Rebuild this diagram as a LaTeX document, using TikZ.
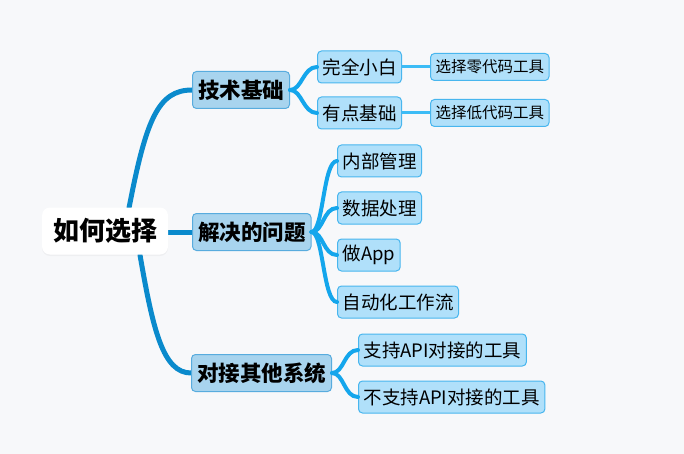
\documentclass[tikz,border=0pt]{standalone}
\usepackage{fontspec}
\setmainfont{Noto Sans CJK SC}
\usetikzlibrary{positioning, shadows}
\definecolor{bggray}{RGB}{247, 248, 250}
\definecolor{topicfill}{RGB}{168, 212, 238}
\definecolor{topicdraw}{RGB}{88, 172, 222}
\definecolor{subfill}{RGB}{176, 224, 250}
\definecolor{subdraw}{RGB}{72, 182, 238}
\definecolor{mainblue}{RGB}{10, 138, 204}
\definecolor{subblue}{RGB}{20, 166, 236}
\definecolor{leafblue}{RGB}{60, 188, 246}
\tikzset{
    % Central topic
    rootnode/.style={
        fill=white,
        rounded corners=8pt,
        minimum width=126pt,
        minimum height=47pt,
        font=\fontsize{26}{30}\selectfont\bfseries,
        drop shadow={opacity=0.07, shadow xshift=0pt, shadow yshift=-1.5pt},
    },
    % Main topics
    topicnode/.style={
        draw=topicdraw, line width=1pt,
        fill=topicfill,
        rounded corners=4pt,
        minimum height=37pt,
        inner xsep=5.5pt,
        anchor=west,
        font=\fontsize{21.5}{25}\selectfont\bfseries,
    },
    % Sub topics
    subnode/.style={
        draw=subdraw, line width=1pt,
        fill=subfill,
        rounded corners=4pt,
        minimum height=32pt,
        inner xsep=5pt,
        anchor=west,
        font=\fontsize{18.5}{22}\selectfont,
    },
    % Leaf topics
    leafnode/.style={
        draw=subdraw, line width=1pt,
        fill=subfill,
        rounded corners=4pt,
        minimum height=27pt,
        inner xsep=5pt,
        font=\fontsize{15.5}{18}\selectfont,
    },
    % Connectors
    mainlink/.style={mainblue, line width=5pt, line cap=round},
    sublink/.style={subblue, line width=4pt, line cap=round},
    leaflink/.style={leafblue, line width=3pt},
}
\begin{document}
\begin{tikzpicture}[x=1pt, y=-1pt]

% background
\fill[bggray] (0,0) rectangle (684,454);

% --- connectors to main topics ---
\coordinate (roottop) at (129,208);
\coordinate (rootbot) at (140,255);
\draw[mainlink] (roottop) .. controls (146,120) and (158,90) .. (192,90);
\draw[mainlink] (rootbot) .. controls (153,330) and (163,373) .. (191,373);
\draw[mainlink] (165,232) -- (192,232);

% --- central topic ---
\node[rootnode] (root) at (105,231) {如何选择};

% --- main topics ---
\node[topicnode] (tech) at (192,90) {技术基础};
\node[topicnode] (prob) at (192,232) {解决的问题};
\node[topicnode] (conn) at (191,373) {对接其他系统};

% --- sub topics ---
\node[subnode] (white) at (317,67) {完全小白};
\node[subnode] (some) at (317,113) {有点基础};

\node[subnode] (mgmt) at (337,161) {内部管理};
\node[subnode] (data) at (337,208) {数据处理};
\node[subnode] (app) at (337,255) {做App};
\node[subnode] (flow) at (337,302) {自动化工作流};

\node[subnode] (api) at (358,350) {支持API对接的工具};
\node[subnode] (noapi) at (358,397) {不支持API对接的工具};

% --- leaf topics ---
\node[leafnode, right=28pt of white] (zero) {选择零代码工具};
\node[leafnode, right=28pt of some] (low) {选择低代码工具};

% --- connectors to sub topics ---
\foreach \t in {white, some}
    \draw[sublink] (tech.east) .. controls +(12,0) and +(-14,0) .. (\t.west);
\foreach \t in {mgmt, data, app, flow}
    \draw[sublink] (prob.east) .. controls +(12,0) and +(-14,0) .. (\t.west);
\foreach \t in {api, noapi}
    \draw[sublink] (conn.east) .. controls +(12,0) and +(-14,0) .. (\t.west);

% --- connectors to leaves ---
\draw[leaflink] (white) -- (zero);
\draw[leaflink] (some) -- (low);

\end{tikzpicture}
\end{document}
